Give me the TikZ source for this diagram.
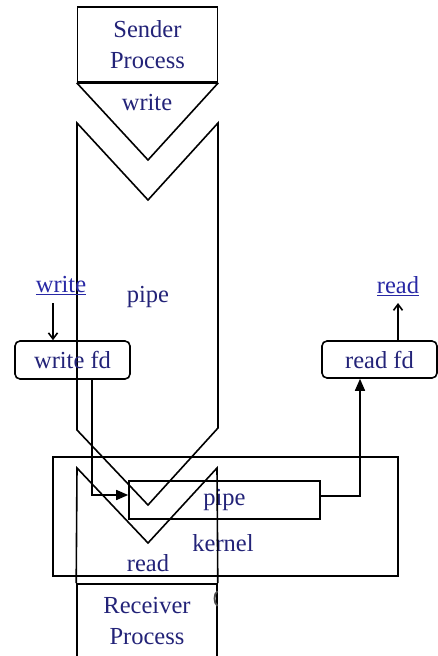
\documentclass[tikz,border=0pt]{standalone}
\usepackage{fontspec}
\setmainfont{Liberation Serif}
\usetikzlibrary{arrows.meta}
\definecolor{inkblue}{RGB}{35,35,120}
\definecolor{linkblue}{RGB}{40,40,165}
\begin{document}
\begin{tikzpicture}[x=1pt,y=-1pt,
  outline/.style={draw=black, line width=1.6pt},
  lbl/.style={text=inkblue, font=\fontsize{24.5}{31}\selectfont, inner sep=0pt, align=center},
  linklbl/.style={lbl, text=linkblue},
  procbox/.style={outline, lbl, rectangle, minimum width=140pt},
  fdbox/.style={outline, lbl, rectangle, rounded corners=5pt, minimum width=115pt, minimum height=38pt},
  plainbox/.style={outline, rectangle},
  fillarrow/.style={outline, -{Triangle[length=12pt,width=10pt]}},
  openarrow/.style={outline, -{Straight Barb[length=6pt,width=9pt]}}
]
\useasboundingbox (0,0) rectangle (438,656);
\clip (0,0) rectangle (438,656);

% sender process and its write chevron
\node[procbox, minimum height=75pt] (sender) at (147.5,44.5) {Sender\\Process};
\draw[line width=2.8pt] (sender.south west) -- (sender.south east);
\coordinate (wapex) at (148,160);
\draw[outline] (sender.south west) -- (wapex) -- (sender.south east);
\node[lbl] (writelbl) at (147,103) {write};

% the pipe body
\coordinate (ptl) at (77,123);
\coordinate (ptop) at (148,200);
\coordinate (ptr) at (218,123);
\coordinate (pbr) at (218,428);
\coordinate (pbot) at (148,505);
\coordinate (pbl) at (77,430);
\draw[outline] (ptl) -- (ptop) -- (ptr) -- (pbr) -- (pbot) -- (pbl) -- cycle;
\node[lbl] (pipelbl) at (148,297) {pipe};

% kernel area with the pipe buffer
\node[plainbox, minimum width=345pt, minimum height=119pt] (kernel) at (225.5,516.5) {};
\node[outline, lbl, rectangle, minimum width=191pt, minimum height=38pt] (pipebox) at (224.5,500) {pipe};
\node[lbl] (kernellbl) at (223,543) {kernel};

% receiver process and its read chevron
\node[procbox, anchor=north, minimum height=74pt] (receiver) at (147,583) {Receiver\\Process};
\coordinate (rl) at (77,468);
\coordinate (rapex) at (148,543);
\coordinate (rr) at (217,468);
\draw[outline] (receiver.north west) -- (rl) -- (rapex) -- (rr) -- (receiver.north east);
\node[lbl] (readlbl) at (148,563) {read};
\draw[line width=1.8pt, draw=black!70] (217.5,591) .. controls (213.5,594) and (213.5,603) .. (217.5,606);

% file descriptors
\node[fdbox] (writefd) at (72.5,360) {write fd};
\node[fdbox, minimum height=37pt] (readfd) at (379.5,359.5) {read fd};
\node[linklbl] (writelink) at (61,286) {\underline{write}};
\node[linklbl] (readlink) at (398,286) {\underline{read}};

% connectors
\coordinate (wtail) at (53,303);
\draw[openarrow] (wtail) -- (wtail |- writefd.north);
\coordinate (rtip) at (398,303);
\draw[openarrow] (rtip |- readfd.north) -- (rtip);
\coordinate (wdrop) at (92,0);
\draw[fillarrow] (wdrop |- writefd.south) |- ([yshift=5pt]pipebox.west);
\coordinate (rrise) at (360,0);
\draw[fillarrow] ([yshift=4pt]pipebox.east) -| (rrise |- readfd.south);
\end{tikzpicture}
\end{document}
